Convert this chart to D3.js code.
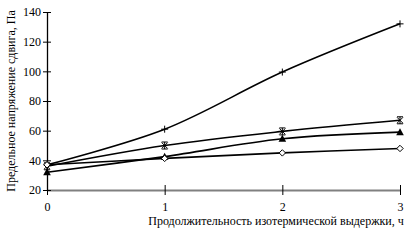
<!DOCTYPE html>
<html>
<head>
<meta charset="utf-8">
<script src="https://cdn.jsdelivr.net/npm/d3@7"></script>
<style>
  body { margin: 0; background: #fff; }
</style>
</head>
<body>
<div id="chart"></div>
<script>
const hours = [0, 1, 2, 3];
const yTicks = [20, 40, 60, 80, 100, 120, 140];
const seriesPlus = [37, 61, 99.5, 132];
const seriesStar = [36, 50, 59.5, 67];
const seriesTriangle = [32, 42.5, 54.5, 59];
const seriesDiamond = [37, 41.3, 45, 48];

const xLabel = "Продолжительность изотермической выдержки, ч";
const yLabel = "Предельное напряжение сдвига, Па";

const FONT = "'Liberation Serif', 'Times New Roman', serif";
const W = 419, H = 240;
const margin = { top: 12, right: 19, bottom: 50, left: 47 };
const width = W - margin.left - margin.right,
  height = H - margin.top - margin.bottom;

const svg = d3.select("#chart").append("svg")
  .attr("width", W)
  .attr("height", H)
  .attr("font-family", FONT);

const g = svg.append("g")
  .attr("transform", `translate(${margin.left},${margin.top})`);

const x = d3.scaleLinear().domain([0, 3]).range([0, width]);
const y = d3.scaleLinear().domain([20, 140]).range([height, 0]);

// X axis (gray baseline)
const xAxis = g.append("g")
  .attr("transform", `translate(0,${height})`)
  .call(d3.axisBottom(x).tickValues(hours).tickFormat(d3.format("d")).tickSizeInner(5).tickSizeOuter(0))
  .attr("font-family", FONT)
  .attr("font-size", 12);
xAxis.select(".domain").attr("stroke", "#808080").attr("stroke-width", 2);
xAxis.selectAll(".tick line").attr("y1", -5).attr("y2", 5).attr("stroke", "#000");
xAxis.selectAll(".tick text").attr("y", 12).attr("fill", "#000");

// Y axis
const yAxis = g.append("g")
  .call(d3.axisLeft(y).tickValues(yTicks).tickSizeInner(4).tickSizeOuter(0))
  .attr("font-family", FONT)
  .attr("font-size", 12);
yAxis.select(".domain").attr("stroke", "#000").attr("stroke-width", 1.3);
yAxis.selectAll(".tick line").attr("x1", -4).attr("x2", 4).attr("stroke", "#000");
yAxis.selectAll(".tick text").attr("x", -6).attr("fill", "#000");

// Lines
const line = d3.line()
  .x((d, i) => x(hours[i]))
  .y(d => y(d))
  .curve(d3.curveCatmullRom.alpha(0.5));

const all = [
  { values: seriesPlus, marker: "plus" },
  { values: seriesStar, marker: "star" },
  { values: seriesTriangle, marker: "triangle" },
  { values: seriesDiamond, marker: "diamond" }
];

all.forEach(s => {
  g.append("path")
    .datum(s.values)
    .attr("fill", "none")
    .attr("stroke", "#000")
    .attr("stroke-width", 1.6)
    .attr("d", line);
});

// Markers
all.forEach(s => {
  const m = g.selectAll(null)
    .data(s.values)
    .join("g")
    .attr("transform", (d, i) => `translate(${x(hours[i])},${y(d)})`);
  if (s.marker === "plus") {
    m.append("path").attr("d", "M-3.5,0H3.5M0,-3.5V3.5").attr("stroke", "#000").attr("stroke-width", 1);
  } else if (s.marker === "star") {
    m.append("path").attr("d", "M-3,-3L3,3M-3,3L3,-3M0,-3.5V3.5M-3,-3.5H3M-3,3.5H3").attr("stroke", "#000").attr("stroke-width", 1);
  } else if (s.marker === "triangle") {
    m.append("path").attr("d", "M0,-4L3.8,3L-3.8,3Z").attr("fill", "#000");
  } else {
    m.append("path").attr("d", "M0,-3.2L3.2,0L0,3.2L-3.2,0Z").attr("fill", "#fff").attr("stroke", "#000").attr("stroke-width", 1);
  }
});

// Axis labels
svg.append("text")
  .attr("x", 276)
  .attr("y", 225)
  .attr("text-anchor", "middle")
  .attr("font-size", 12)
  .text(xLabel);

svg.append("text")
  .attr("transform", "rotate(-90)")
  .attr("x", -101)
  .attr("y", 15)
  .attr("text-anchor", "middle")
  .attr("font-size", 12)
  .text(yLabel);
</script>
</body>
</html>
